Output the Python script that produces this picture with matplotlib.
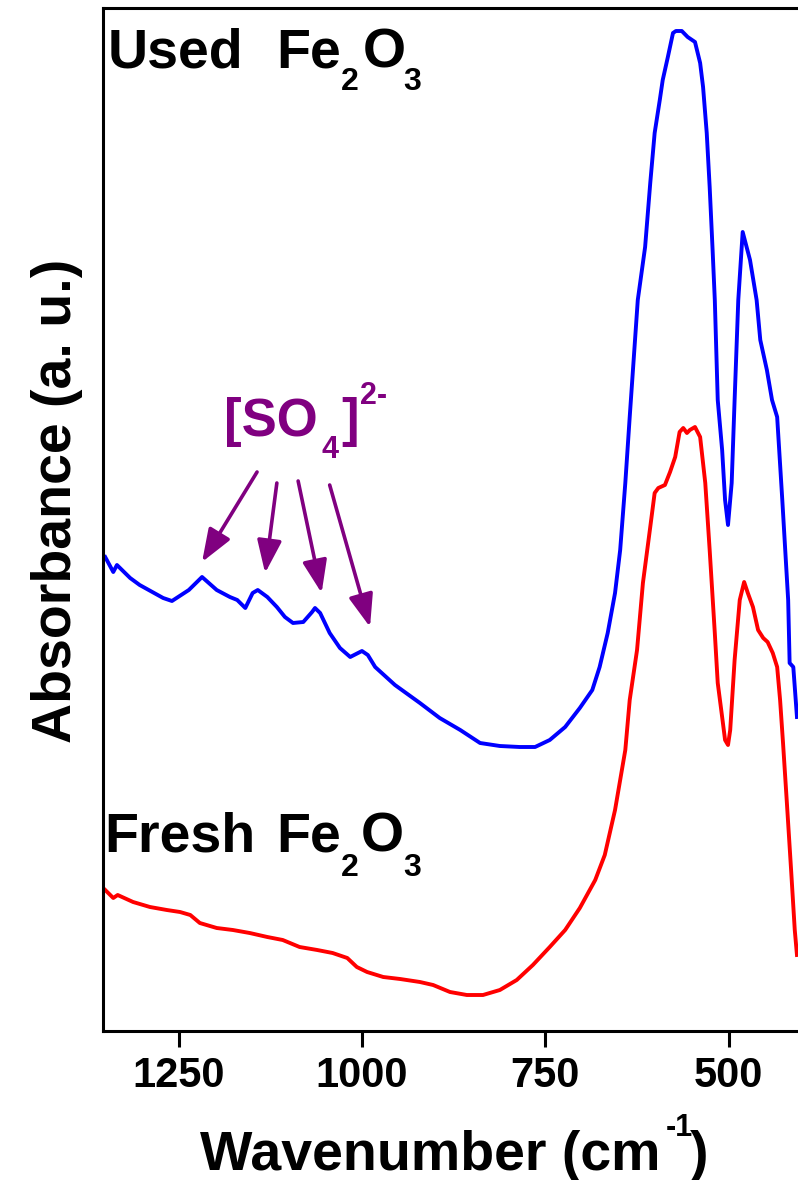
import matplotlib.pyplot as plt

plt.rcParams['font.family'] = ['Liberation Sans', 'DejaVu Sans']
plt.rcParams['font.weight'] = 'bold'

## data (wavenumber in cm-1, absorbance in a.u.)
used_wn = [1350, 1339, 1334, 1316, 1303, 1271, 1259, 1236, 1218, 1198, 1180, 1170,
           1159, 1149, 1142, 1129, 1116, 1105, 1094, 1080, 1068, 1064, 1057, 1044,
           1030, 1016, 1000, 992, 982, 955, 921, 894, 866, 839, 812, 785, 764, 744,
           723, 703, 686, 676, 665, 655, 648, 641, 635, 624, 614, 607, 601, 594, 590,
           583, 576, 572, 564, 556, 546, 539, 535, 530, 526, 522, 519, 515, 509, 505,
           501, 496, 492, 487, 481, 471, 462, 457, 448, 441, 434, 427, 423, 419, 417,
           412, 407]
used_abs = [.474, .459, .466, .453, .446, .433, .430, .441, .454, .441, .434, .431,
            .423, .438, .441, .434, .424, .414, .408, .409, .419, .423, .418, .398,
            .383, .374, .380, .376, .364, .346, .328, .313, .301, .288, .285, .284, .284, .291,
            .304, .323, .341, .364, .398, .438, .481, .548, .614, .731, .784, .848, .898, .931, .951,
            .974, .998, 1.000, 1.000, .994, .989, .968, .944, .898, .844, .781, .731, .631, .581, .531,
            .506, .548, .631, .731, .799, .771, .731, .691, .661, .631, .614, .531, .481, .431, .368,
            .364, .314]

fresh_wn = [1350, 1339, 1333, 1312, 1289, 1266, 1248, 1234, 1221, 1198, 1176, 1153,
            1129, 1108, 1085, 1061, 1040, 1020, 1007, 993, 971, 948, 921, 903, 880,
            857, 835, 812, 789, 767, 744, 723, 703, 682, 669, 655, 641, 635, 625, 617,
            607, 601, 596, 587, 580, 573, 567, 562, 557, 553, 546, 539, 532, 526, 519,
            515, 509, 505, 501, 498, 492, 485, 479, 474, 467, 460, 453, 447, 440, 434,
            430, 426, 421, 415, 410, 407]
fresh_abs = [.141, .133, .136, .129, .124, .121, .119, .116, .108, .103, .101, .098,
             .094, .091, .084, .081, .078, .073, .064, .059, .054, .052, .049, .046, .039,
             .036, .036, .041, .051, .066, .084, .101, .123, .151, .176, .221, .281, .331, .381, .448,
             .504, .538, .543, .546, .559, .574, .599, .603, .598, .601, .604, .594, .548, .481, .398,
             .348, .314, .291, .286, .301, .371, .431, .449, .438, .424, .401, .393, .389, .378, .364,
             .331, .288, .231, .161, .101, .076]

# sulfate arrows: (tail wn, tail abs, tip wn, tip abs)
arrow_tail_wn = [1143, 1116, 1087, 1044]
arrow_tail_abs = [.559, .548, .550, .546]
arrow_tip_wn = [1218, 1132, 1055, 989]
arrow_tip_abs = [.469, .458, .438, .404]

xticks = [1250, 1000, 750, 500]

W, H = 798, 1180
purple = '#800080'


def px(x, y):
    return x / W, 1 - y / H


fig = plt.figure(figsize=(W / 100, H / 100), dpi=100)
ax = fig.add_axes([103 / W, (H - 1031) / H, (801 - 103) / W, (1031 - 8) / H])

ax.plot(used_wn, used_abs, color='#0000FF', lw=2.8)
ax.plot(fresh_wn, fresh_abs, color='#FF0000', lw=2.8)

for i in range(len(arrow_tip_wn)):
    ax.annotate('', xy=(arrow_tip_wn[i], arrow_tip_abs[i]),
                xytext=(arrow_tail_wn[i], arrow_tail_abs[i]),
                arrowprops=dict(arrowstyle='-|>,head_length=0.8,head_width=0.3',
                                mutation_scale=25, lw=2.6, color=purple,
                                shrinkA=0, shrinkB=0))

ax.set_xlim(1353, 401.5)
ax.set_ylim(0, 1.023)
ax.set_xticks(xticks)
ax.set_xticklabels([str(t) for t in xticks])
ax.set_yticks([])
ax.tick_params(axis='x', direction='out', length=11.5, width=2.2, pad=6.5, labelsize=30)
for s in ax.spines.values():
    s.set_linewidth(2.2)

# labels inside the plot
big = 40
small = 23
fig.text(*px(108, 67), 'Used', fontsize=big, va='baseline')
fig.text(*px(276, 67), 'Fe', fontsize=big, va='baseline')
fig.text(*px(341, 90), '2', fontsize=small, va='baseline')
fig.text(*px(363, 67), 'O', fontsize=big, va='baseline')
fig.text(*px(403, 90), '3', fontsize=small, va='baseline')

fig.text(*px(104, 852), 'Fresh', fontsize=big, va='baseline')
fig.text(*px(276, 852), 'Fe', fontsize=big, va='baseline')
fig.text(*px(341, 876), '2', fontsize=small, va='baseline')
fig.text(*px(361, 852), 'O', fontsize=big, va='baseline')
fig.text(*px(403, 876), '3', fontsize=small, va='baseline')

fig.text(*px(224, 436), '[SO', fontsize=38, va='baseline', color=purple)
fig.text(*px(321, 458), '4', fontsize=22, va='baseline', color=purple)
fig.text(*px(341, 436), ']', fontsize=38, va='baseline', color=purple)
fig.text(*px(360, 404), '2-', fontsize=22, va='baseline', color=purple)

# axis titles
fig.text(*px(200, 1170), 'Wavenumber (cm', fontsize=big, va='baseline')
fig.text(*px(666, 1136), '-1', fontsize=22, va='baseline')
fig.text(*px(690, 1170), ')', fontsize=big, va='baseline')
fig.text(*px(71, 501), 'Absorbance (a. u.)', fontsize=big, rotation=90,
         rotation_mode='anchor', ha='center', va='baseline')

plt.savefig('out.png', dpi=100)
